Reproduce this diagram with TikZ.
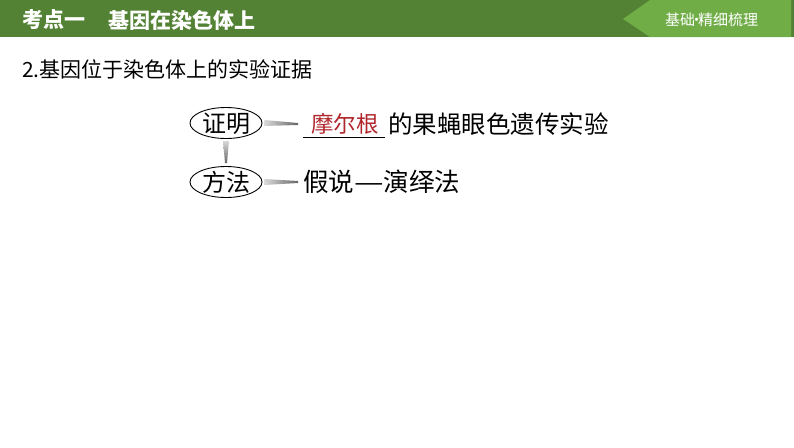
\documentclass[tikz,border=0pt]{standalone}
\usepackage{fontspec}
\newfontfamily\cjk{Noto Sans CJK SC}
\usetikzlibrary{calc,positioning,shapes.geometric}
\definecolor{barGreen}{HTML}{548235}
\definecolor{tabGreen}{HTML}{70AD47}
\definecolor{keyRed}{HTML}{B0262B}

\begin{document}
\begin{tikzpicture}[x=1pt,y=-1pt,
  every node/.style={inner sep=0pt, anchor=west},
  oval/.style={ellipse, draw, line width=0.9pt, anchor=center,
    minimum width=72pt, minimum height=31pt, text height=19pt, text depth=1pt,
    font=\cjk\fontsize{24}{24}\selectfont},
  hwedge/.style={left color=black!15, right color=black!60, draw=none},
  vwedge/.style={top color=black!15, bottom color=black!60, draw=none}]
  \useasboundingbox (0,0) rectangle (794,447);
  % header
  \fill[barGreen] (0,0) rectangle (794,37);
  \fill[tabGreen] (623,19) -- (650,0) -- (791,0) -- (791,37) -- (650,37) -- cycle;
  \node[text=white, font=\cjk\bfseries\fontsize{21}{21}\selectfont] (kd) at (22,20) {考点一};
  \node[text=white, font=\cjk\bfseries\fontsize{21}{21}\selectfont] (jy) at (108,20) {基因在染色体上};
  \node[text=white, font=\cjk\fontsize{15}{15}\selectfont] (tab) at (665,20) {基础\hbox to 3pt{\hss·\hss}精细梳理};
  % title
  \node[font=\cjk\fontsize{21}{21}\selectfont] (title) at (22,69) {2.基因位于染色体上的实验证据};
  % ovals
  \node[oval] (zm) at (226,123) {证明};
  \node[oval] (ff) at (226,182) {方法};
  % texts
  \node[text=keyRed, font=\cjk\fontsize{22.5}{22.5}\selectfont] (mrg) at (311,124) {摩尔根};
  \node[font=\cjk\fontsize{24.5}{24.5}\selectfont] (gy) at (388,124) {的果蝇眼色遗传实验};
  \node[font=\cjk\fontsize{25.5}{25.5}\selectfont] (jsf) at (303,182) {假说\scalebox{1.3}[1]{—}演绎法};
  \coordinate (ulA) at (303,137);
  \coordinate (ulB) at (385,137);
  \draw[line width=0.8pt] (ulA) -- (ulB);
  % connectors
  \shade[hwedge] ($(zm.east)+(2,-3)$) -- ($(mrg.west)+(-13,-1)$) -- ($(mrg.west)+(-13,1)$) -- ($(zm.east)+(2,3)$) -- cycle;
  \shade[hwedge] ($(ff.east)+(2,-3)$) -- ($(jsf.west)+(-5,-1)$) -- ($(jsf.west)+(-5,1)$) -- ($(ff.east)+(2,3)$) -- cycle;
  \shade[vwedge] ($(zm.south)+(-3,2)$) -- ($(zm.south)+(3,2)$) -- ($(ff.north)+(1,-3)$) -- ($(ff.north)+(-1,-3)$) -- cycle;
\end{tikzpicture}
\end{document}
